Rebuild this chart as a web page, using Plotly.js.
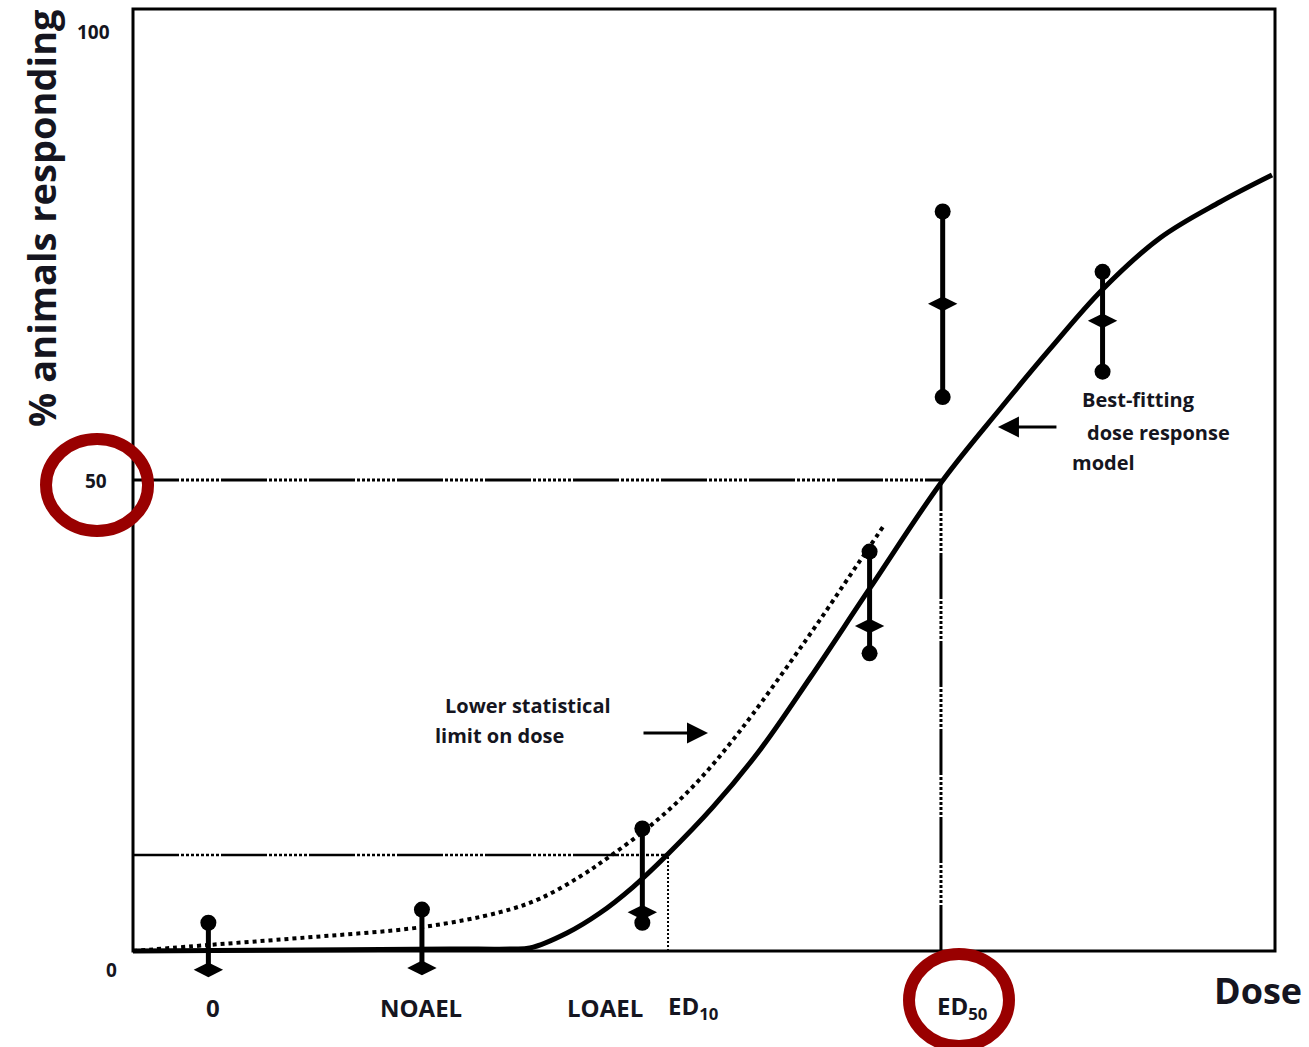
<!DOCTYPE html>
<html>
<head>
<meta charset="utf-8">
<script src="https://cdn.plot.ly/plotly-3.0.1.min.js"></script>
<style>html,body{margin:0;padding:0;background:#fff;}#chart{width:1309px;height:1047px;}</style>
</head>
<body>
<div id="chart"></div>
<script>
// ---------- data ----------
// observed dose groups (x in dose units 0..100 of the drawn axis)
const doseX      = [6.6, 25.3, 44.6, 64.5, 70.9, 84.9];
const upperPct   = [3.0, 4.4, 13.0, 42.4, 78.5, 72.1];
const meanPct    = [-2.0, -1.8, 4.1, 34.5, 68.7, 66.9];
const lowerPct   = [-2.0, -1.8, 3.0, 31.6, 58.8, 61.5];

// best-fitting dose response model
const fitX = [0, 14.62, 27.76, 33.01, 34.76, 38.00, 40.89, 43.78, 46.76, 50.79, 54.90, 59.28, 64.54, 70.93, 75.92, 80.30, 84.85, 89.93, 95.18, 99.74];
const fitY = [0, 0.11, 0.21, 0.21, 0.32, 1.91, 4.03, 6.79, 10.19, 15.29, 21.34, 28.98, 38.54, 50.0, 57.54, 63.91, 70.17, 75.69, 79.51, 82.38];

// lower statistical limit on dose
const limX = [0, 6.65, 14.62, 25.39, 32.14, 35.64, 39.14, 41.77, 45.01, 47.90, 50.26, 52.28, 54.29, 57.53, 60.16, 62.78, 64.54, 65.67];
const limY = [0, 0.64, 1.38, 2.55, 4.12, 5.56, 7.90, 10.06, 13.00, 16.08, 19.08, 22.02, 25.18, 30.61, 35.16, 39.85, 42.99, 45.03];

// reference levels
const ed10 = {dose: 46.85, pct: 10.2};
const ed50 = {dose: 70.75, pct: 50};

// tick labels and dose labels
const yTickVals   = [100, 50, 0];
const yTickText   = ['100', '50', '0'];
const doseLabels  = ['0', 'NOAEL', 'LOAEL', 'ED<sub>10</sub>', 'ED<sub>50</sub>'];

// ---------- layout helpers ----------
const FONT = '"Open Sans", "DejaVu Sans", sans-serif';
const TXT = '#151520';
const doseLabelPos = [7.0, 25.2, 41.3, 49.0, 72.6];   // label centres on the dose axis
const yTickXPaper  = [-0.0322, -0.0296, -0.0157];
const yTickShift   = [-23, -1, -19];

const traces = [];

// reference lines
const refDash = '46px,2px,3px,2px,3px,2px,3px,2px,3px,2px,3px,2px,3px,2px,3px,2px,3px,2px';
traces.push({x:[0, ed50.dose], y:[ed50.pct, ed50.pct], mode:'lines', line:{color:'#000', width:3, dash:refDash}, hoverinfo:'skip'});
traces.push({x:[ed50.dose, ed50.dose], y:[0, ed50.pct], mode:'lines', line:{color:'#000', width:3, dash:refDash}, hoverinfo:'skip'});
traces.push({x:[0, ed10.dose], y:[ed10.pct, ed10.pct], mode:'lines', line:{color:'#000', width:2.5, dash:refDash}, hoverinfo:'skip'});
traces.push({x:[ed10.dose, ed10.dose], y:[0, ed10.pct], mode:'lines', line:{color:'#000', width:2, dash:'2px,2px'}, hoverinfo:'skip'});

// curves
traces.push({x:limX, y:limY, mode:'lines', line:{color:'#000', width:4, dash:'dot', shape:'spline', smoothing:1}, hoverinfo:'skip'});
traces.push({x:fitX, y:fitY, mode:'lines', line:{color:'#000', width:5, shape:'spline', smoothing:1}, hoverinfo:'skip'});

// error bars
const ebX = [], ebY = [];
doseX.forEach((d, i) => { ebX.push(d, d, null); ebY.push(lowerPct[i], upperPct[i], null); });
traces.push({x:ebX, y:ebY, mode:'lines', line:{color:'#000', width:5}, hoverinfo:'skip'});
const capX = [], capY = [];
doseX.forEach((d, i) => {
  capX.push(d); capY.push(upperPct[i]);
  if (lowerPct[i] < meanPct[i]) { capX.push(d); capY.push(lowerPct[i]); }
});
traces.push({x:capX, y:capY, mode:'markers', marker:{symbol:'circle', size:16, color:'#000'}, cliponaxis:false, hoverinfo:'skip'});
traces.push({x:doseX, y:meanPct, mode:'markers', marker:{symbol:'diamond-wide', size:21, color:'#000'}, cliponaxis:false, hoverinfo:'skip'});

// ---------- annotations ----------
const ann = [];
yTickText.forEach((t, i) => ann.push({xref:'paper', yref:'y', x:yTickXPaper[i], y:yTickVals[i], yshift:yTickShift[i], text:'<b>'+t+'</b>', showarrow:false, xanchor:'center', yanchor:'middle', font:{family:FONT, size:19, color:TXT}}));
doseLabels.forEach((t, i) => ann.push({xref:'x', yref:'paper', x:doseLabelPos[i], y:-0.0142, text:'<b>'+t+'</b>', showarrow:false, xanchor:'center', yanchor:'middle', font:{family:FONT, size:24, color:TXT}}));
ann.push({xref:'paper', yref:'paper', x:-0.078, y:0.7841, text:'<b>% animals responding</b>', textangle:-90, showarrow:false, xanchor:'center', yanchor:'middle', font:{family:FONT, size:38, color:TXT}});
ann.push({xref:'paper', yref:'paper', x:0.9817, y:0.003, text:'<b>Dose</b>', showarrow:false, xanchor:'center', yanchor:'middle', font:{family:FONT, size:36, color:TXT}});
const noteFont = {family:FONT, size:20, color:TXT};
ann.push({xref:'paper', yref:'paper', x:0.8269, y:0.5996, text:'<b>Best-fitting</b>', showarrow:false, xanchor:'left', yanchor:'middle', font:noteFont});
ann.push({xref:'paper', yref:'paper', x:0.8312, y:0.5672, text:'<b>dose response</b>', showarrow:false, xanchor:'left', yanchor:'middle', font:noteFont});
ann.push({xref:'paper', yref:'paper', x:0.8181, y:0.5369, text:'<b>model</b>', showarrow:false, xanchor:'left', yanchor:'middle', font:noteFont});
ann.push({xref:'paper', yref:'paper', x:0.2724, y:0.2902, text:'<b>Lower statistical</b>', showarrow:false, xanchor:'left', yanchor:'middle', font:noteFont});
ann.push({xref:'paper', yref:'paper', x:0.2637, y:0.2599, text:'<b>limit on dose</b>', showarrow:false, xanchor:'left', yanchor:'middle', font:noteFont});
// arrows
ann.push({xref:'x', yref:'y', x:75.74, y:55.63, ax:60, ay:0, text:'', showarrow:true, arrowhead:2, arrowsize:1.4, arrowwidth:3, arrowcolor:'#000', standoff:0});
ann.push({xref:'x', yref:'y', x:50.35, y:23.14, ax:-66, ay:0, text:'', showarrow:true, arrowhead:2, arrowsize:1.4, arrowwidth:3, arrowcolor:'#000', standoff:0});

// ---------- shapes ----------
const shapes = [
  {type:'rect', xref:'x', yref:'y', x0:0, x1:100, y0:0, y1:100, line:{color:'#000', width:3}, layer:'below'},
  {type:'circle', xref:'paper', yref:'paper', x0:-0.0731, x1:0.0157, y0:0.4671, y1:0.5602, line:{color:'#990000', width:12}},
  {type:'circle', xref:'paper', yref:'paper', x0:0.678, x1:0.765, y0:-0.0536, y1:0.0394, line:{color:'#990000', width:12}}
];

const layout = {
  width:1309, height:1047,
  margin:{l:130, r:30, t:4, b:54},
  paper_bgcolor:'#fff', plot_bgcolor:'#fff',
  showlegend:false,
  xaxis:{range:[-0.263, 100.35], visible:false, fixedrange:true},
  yaxis:{range:[-4.46, 100.53], visible:false, fixedrange:true},
  annotations:ann, shapes:shapes
};
Plotly.newPlot('chart', traces, layout, {displayModeBar:false, staticPlot:true});
</script>
</body>
</html>
